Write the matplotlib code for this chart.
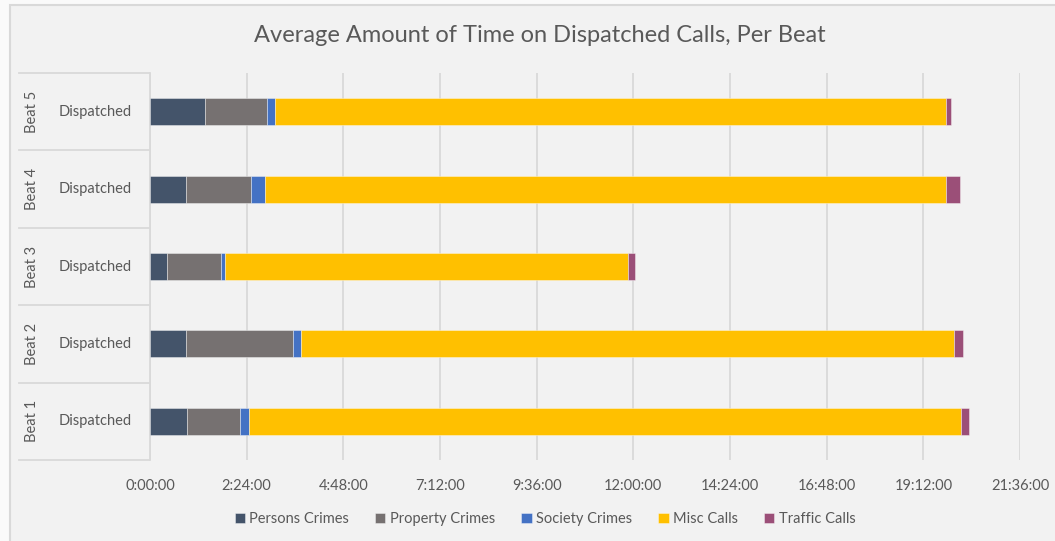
import matplotlib.pyplot as plt
from matplotlib.patches import Rectangle
from matplotlib.ticker import FuncFormatter, MultipleLocator

# average minutes per dispatched call, by beat (bottom to top)
beats = ['Beat 1', 'Beat 2', 'Beat 3', 'Beat 4', 'Beat 5']
sub_label = 'Dispatched'
series = ['Persons Crimes', 'Property Crimes', 'Society Crimes', 'Misc Calls', 'Traffic Calls']
persons = [55, 54, 26, 54, 82]
property_ = [79, 159, 80, 97, 92]
society = [13, 12, 6, 20, 12]
misc = [1061, 972, 600, 1015, 1000]
traffic = [12, 14, 10, 20, 7]
colors = ['#44546A', '#767171', '#4472C4', '#FFC000', '#9B4F78']

W, H = 1055, 541
txt = '#595959'
grid = '#D9D9D9'
plt.rcParams['font.family'] = ['Lato', 'DejaVu Sans']

fig = plt.figure(figsize=(W / 100, H / 100), dpi=100, facecolor='#FAFAFA')
# chart area background with border
fig.patches.append(Rectangle((10 / W, -0.1), 1.2, 1 - 5 / H + 0.1, transform=fig.transFigure,
                             facecolor='#F2F2F2', edgecolor=grid, linewidth=1.5, zorder=-1))

x0, x1, ytop, ybot = 150, 1020, 73, 460
ax = fig.add_axes([x0 / W, 1 - ybot / H, (x1 - x0) / W, (ybot - ytop) / H])
ax.set_facecolor('none')

ypos = range(len(beats))
left = [0] * len(beats)
for name, vals, c in zip(series, [persons, property_, society, misc, traffic], colors):
    ax.barh(ypos, vals, left=left, height=0.35, color=c, label=name,
            edgecolor=(1, 1, 1, 0.45), linewidth=0.6, zorder=3)
    left = [a + b for a, b in zip(left, vals)]

ax.set_xlim(0, 1296)
ax.set_ylim(-0.5, len(beats) - 0.5)
ax.xaxis.set_major_locator(MultipleLocator(144))
ax.xaxis.set_major_formatter(FuncFormatter(lambda v, p: '%d:%02d:00' % (v // 60, v % 60)))
ax.grid(axis='x', color=grid, linewidth=1.3, zorder=0)
ax.tick_params(axis='x', length=0, pad=14, labelsize=10.5, labelcolor=txt)
ax.tick_params(axis='y', left=False, labelleft=False)
for s in ['top', 'right', 'bottom']:
    ax.spines[s].set_visible(False)
ax.spines['left'].set_color(grid)
ax.spines['left'].set_linewidth(1.3)

# two-level category labels with separators
for i, b in enumerate(beats):
    yc = 1 - (ybot - (i + 0.5) * (ybot - ytop) / len(beats)) / H
    fig.text(95 / W, yc, sub_label, ha='center', va='center', fontsize=10.5, color=txt)
    fig.text(32 / W, yc, b, ha='center', va='center', rotation=90, fontsize=10.5, color=txt)
for k in range(len(beats) + 1):
    yy = 1 - (ytop + k * (ybot - ytop) / len(beats)) / H
    fig.add_artist(plt.Line2D([19 / W, 149 / W], [yy, yy], color=grid, linewidth=1.3))

fig.text(540 / W, 1 - 36 / H, 'Average Amount of Time on Dispatched Calls, Per Beat',
         ha='center', va='center', fontsize=17, color=txt)

fig.legend(loc='center', bbox_to_anchor=(545 / W, 1 - 519 / H), ncol=5, frameon=False,
           handlelength=0.7, handleheight=0.7, handletextpad=0.3, columnspacing=1.8,
           prop={'size': 10.5}, labelcolor=txt)

fig.savefig('out.png', dpi=100, facecolor=fig.get_facecolor())
